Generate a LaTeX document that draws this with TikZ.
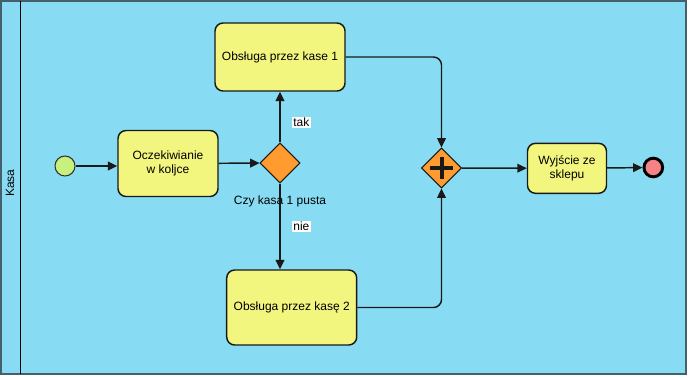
\documentclass[tikz,border=0pt]{standalone}
\usepackage{fontspec}
\setmainfont{Liberation Sans}
\usetikzlibrary{shapes.geometric,arrows.meta,positioning}
\definecolor{poolblue}{HTML}{87DCF4}
\definecolor{poolline}{HTML}{44606C}
\definecolor{taskyellow}{HTML}{F2F57E}
\definecolor{gworange}{HTML}{FF9B2F}
\definecolor{startgreen}{HTML}{C8F07C}
\definecolor{endred}{HTML}{F48286}
\tikzset{
  taskbox/.style={rectangle,rounded corners=6pt,draw=black!90,fill=taskyellow,
    line width=1.1pt,align=center,font=\fontsize{9}{11}\selectfont,inner sep=2pt},
  gwbox/.style={diamond,draw=black!90,fill=gworange,line width=0.8pt,
    minimum width=30pt,minimum height=30pt,inner sep=0pt},
  pgwbox/.style={gwbox,path picture={
    \draw[line width=3pt] ([xshift=-8.5pt]path picture bounding box.center)
      -- ([xshift=8.5pt]path picture bounding box.center);
    \draw[line width=3pt] ([yshift=-8.5pt]path picture bounding box.center)
      -- ([yshift=8.5pt]path picture bounding box.center);}},
  startev/.style={circle,draw=black!80,fill=startgreen,line width=0.8pt,
    minimum size=15pt,inner sep=0pt},
  endev/.style={circle,draw=black,fill=endred,line width=2.2pt,
    minimum size=14pt,inner sep=0pt},
  flow/.style={-{Triangle[length=7pt,width=6.5pt]},line width=1.1pt,draw=black!90},
  lbl/.style={fill=white,font=\fontsize{9}{11}\selectfont,inner sep=1pt},
}

\begin{document}
\begin{tikzpicture}[x=0.75pt,y=-0.75pt]
  \useasboundingbox (0,0) rectangle (692,379);

  % pool and lane
  \draw[fill=poolblue,draw=poolline,line width=1.2pt] (0.8,0.8) rectangle (686,374);
  \draw[line width=1pt] (20.5,0.8) -- (20.5,374);
  \node[rotate=90,font=\fontsize{9}{11}\selectfont] (lanetxt) at (10,183) {Kasa};

  % events and tasks
  \node[startev] (start) at (65,166) {};
  \node[taskbox,minimum width=75pt,minimum height=49.5pt] (wait) at (168,163.5)
    {Oczekiwianie\\w koljce};
  \node[gwbox] (gw1) at (280,163) {};
  \node[font=\fontsize{9}{11}\selectfont,below=6pt of gw1] (gw1txt)
    {Czy kasa 1 pusta};
  \node[taskbox,minimum width=97.5pt,minimum height=51pt] (kasa1) at (280,57)
    {Obsługa przez kase 1};
  \node[taskbox,minimum width=97.5pt,minimum height=56.25pt] (kasa2) at (291.7,307.5)
    {Obsługa przez kasę 2};
  \node[pgwbox] (gw2) at (441.5,168) {};
  \node[taskbox,minimum width=59.25pt,minimum height=37.5pt] (exit) at (567,168.3)
    {Wyjście ze\\sklepu};
  \node[endev] (end) at (653.3,167.5) {};

  % sequence flows
  \draw[flow] (start) -- (start -| wait.west);
  \draw[flow] (wait) -- (gw1);
  \draw[flow] (gw1.north) -- node[lbl,pos=0.39,xshift=16pt] {tak} (kasa1.south);
  \draw[flow] (gw1.south) -- node[lbl,pos=0.5,xshift=16pt] {nie} (gw1.south |- kasa2.north);
  \draw[flow,rounded corners=6pt] (kasa1.east) -| (gw2.north);
  \draw[flow,rounded corners=6pt] (kasa2.east) -| (gw2.south);
  \draw[flow] (gw2) -- (exit);
  \draw[flow] (exit) -- (end);

\end{tikzpicture}
\end{document}
